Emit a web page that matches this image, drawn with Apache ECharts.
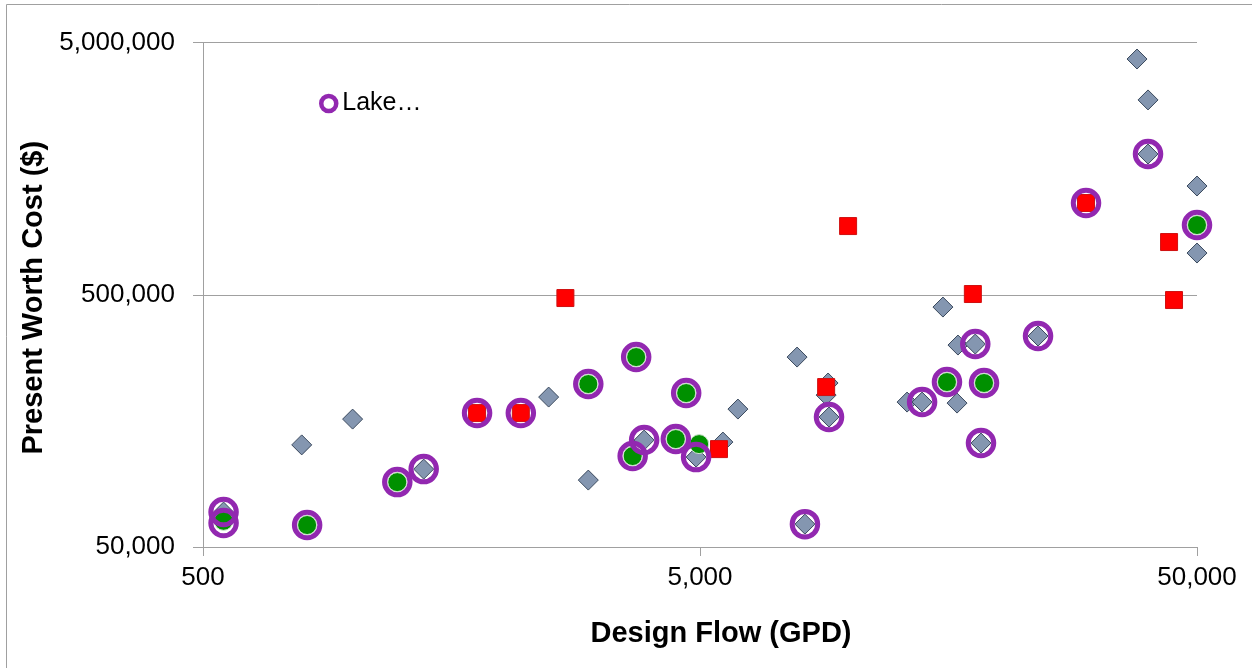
<!DOCTYPE html>
<html>
<head>
<meta charset="utf-8">
<script src="https://cdn.jsdelivr.net/npm/echarts@6/dist/echarts.min.js"></script>
<style>
html,body{margin:0;padding:0;background:#fff;}
#chart{width:1252px;height:668px;}
</style>
</head>
<body>
<div id="chart"></div>
<script>
// ---- data (Design Flow GPD, Present Worth Cost $) ----
const xTicks = [500, 5000, 50000];
const yTicks = [50000, 500000, 5000000];

const diamondPts = [
  [550, 68800], [790, 127000], [1000, 160700], [1390, 101800], [2480, 196500],
  [2980, 92100], [3860, 132700], [4910, 113600], [5560, 130300], [5960, 176100],
  [7840, 283100], [8130, 61600], [9050, 223400], [8970, 200100], [9090, 163700],
  [13050, 187700], [13990, 187700], [15410, 446800], [16450, 186000], [16520, 315900],
  [17900, 318800], [18380, 129100], [23940, 343000], [37870, 4300000], [39850, 2960000],
  [39850, 1806000], [50000, 1349000], [50000, 731700]
];
const greenPts = [
  [550, 63500], [810, 61100], [1230, 90400], [2980, 221300], [3720, 283100],
  [4690, 203800], [3660, 114700], [4470, 133900], [4980, 127900], [15700, 225400],
  [18640, 223400], [50000, 944800]
];
const redPts = [
  [1780, 169800], [2180, 169800], [2680, 485200], [5460, 122200], [8970, 215300],
  [9930, 936000], [17700, 503300], [29900, 1155000], [43930, 809000], [44950, 476400]
];
const lakePts = [
  [550, 68800], [550, 62200], [810, 61100], [1230, 90400], [1390, 101800],
  [1780, 169800], [2180, 169800], [2980, 221300], [3720, 283100], [4690, 203800],
  [3660, 114700], [4470, 133900], [3860, 132700], [4910, 113600], [8130, 61600],
  [9090, 163700], [13990, 187700], [15700, 225400], [17900, 318800], [18640, 223400],
  [18380, 129100], [23940, 343000], [29900, 1155000], [39850, 1806000], [50000, 944800]
];
const lakeName = 'Lake…';

const FONT = 'Liberation Sans, Arial, sans-serif';
const fmt = v => Math.round(v).toLocaleString('en-US');
const purple = '#9228B0';

const chart = echarts.init(document.getElementById('chart'), null, {renderer: 'canvas'});
chart.setOption({
  animation: false,
  backgroundColor: '#fff',
  graphic: [{
    type: 'rect', silent: true, z: -10,
    shape: {x: 6.5, y: 4.5, width: 1400, height: 900},
    style: {fill: 'none', stroke: '#a0a0a0', lineWidth: 1}
  }],
  grid: {left: 203, right: 55, top: 42.5, bottom: 121, containLabel: false},
  legend: {
    data: [lakeName], left: 319, top: 91, padding: 0,
    itemWidth: 15, itemHeight: 15, icon: 'circle',
    itemStyle: {color: '#fff', borderColor: purple, borderWidth: 4.5, opacity: 1},
    textStyle: {fontFamily: FONT, fontSize: 25, color: '#000', padding: [0, 0, 0, 1]}
  },
  xAxis: {
    type: 'log', logBase: 10, min: 500, max: 50000,
    name: 'Design Flow (GPD)', nameLocation: 'middle', nameGap: 72,
    nameTextStyle: {fontFamily: FONT, fontSize: 29, fontWeight: 'bold', color: '#000', padding: [0, 0, 0, 42]},
    axisLine: {show: true, lineStyle: {color: '#a0a0a0', width: 1}},
    axisTick: {show: true, length: 9, inside: false, customValues: xTicks, lineStyle: {color: '#a0a0a0'}},
    minorTick: {show: false},
    axisLabel: {customValues: xTicks, formatter: fmt, fontFamily: FONT, fontSize: 26, color: '#000', margin: 18},
    splitLine: {show: false}
  },
  yAxis: {
    type: 'log', logBase: 10, min: 50000, max: 5000000,
    name: 'Present Worth Cost ($)', nameLocation: 'middle', nameGap: 152, nameRotate: 90,
    nameTextStyle: {fontFamily: FONT, fontSize: 29, fontWeight: 'bold', color: '#000', padding: [0, 6, 0, 0]},
    axisLine: {show: true, lineStyle: {color: '#a0a0a0', width: 1}},
    axisTick: {show: true, length: 10, customValues: yTicks, lineStyle: {color: '#a0a0a0'}},
    minorTick: {show: false},
    axisLabel: {customValues: yTicks, formatter: fmt, fontFamily: FONT, fontSize: 26, color: '#000', margin: 28},
    splitLine: {show: true, lineStyle: {color: '#a0a0a0', width: 1}}
  },
  series: [
    {
      name: 'Sites', type: 'scatter', data: diamondPts, symbol: 'diamond', symbolSize: 20, z: 2,
      itemStyle: {color: '#8496B0', borderColor: '#3B4A5E', borderWidth: 1, opacity: 1}
    },
    {
      name: 'Green', type: 'scatter', data: greenPts, symbol: 'circle', symbolSize: 19, z: 3,
      itemStyle: {color: '#009000', borderColor: '#cfe3cf', borderWidth: 1, opacity: 1}
    },
    {
      name: 'Red', type: 'scatter', data: redPts, symbol: 'rect', symbolSize: 17, z: 4,
      itemStyle: {color: '#FF0000', borderColor: '#d01010', borderWidth: 1, opacity: 1}
    },
    {
      name: lakeName, type: 'scatter', data: lakePts, symbol: 'circle', symbolSize: 25.5, z: 5,
      itemStyle: {color: 'rgba(0,0,0,0)', borderColor: purple, borderWidth: 5, opacity: 1}
    }
  ]
});
</script>
</body>
</html>
